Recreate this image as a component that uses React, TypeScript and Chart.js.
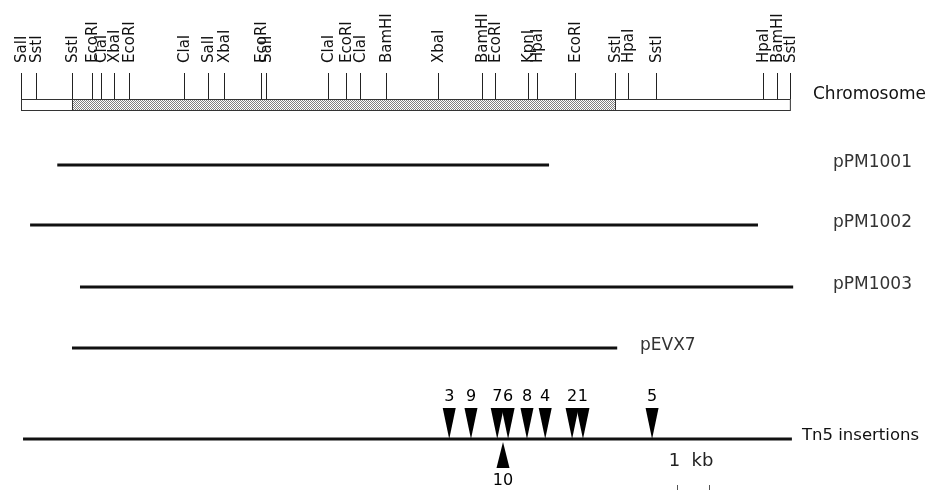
import React, { useEffect, useRef } from "react";
import { Chart, registerables } from "chart.js";

Chart.register(...registerables);

// Restriction sites along the chromosome (kb from the left SalI site)
const siteNames = [
  "SalI", "SstI", "SstI", "EcoRI", "ClaI", "XbaI", "EcoRI", "ClaI", "SalI", "XbaI",
  "EcoRI", "SalI", "ClaI", "EcoRI", "ClaI", "BamHI", "XbaI", "BamHI", "EcoRI", "KpnI",
  "HpaI", "EcoRI", "SstI", "HpaI", "SstI", "HpaI", "BamHI", "SstI",
];
const sitePositions = [
  0, 0.47, 1.59, 2.22, 2.5, 2.91, 3.38, 5.09, 5.84, 6.34,
  7.5, 7.66, 9.59, 10.16, 10.59, 11.41, 13.03, 14.41, 14.81, 15.84,
  16.13, 17.31, 18.56, 18.97, 19.84, 23.19, 23.63, 24.03,
];

// Chromosome extent and shaded (cloned) region
const chromosomeRange = [0, 24.03];
const shadedRange = [1.59, 18.56];

// Cloned fragments
const plasmidNames = ["pPM1001", "pPM1002", "pPM1003", "pEVX7"];
const plasmidStarts = [1.13, 0.28, 1.84, 1.59];
const plasmidEnds = [16.5, 23.03, 24.13, 18.63];

// Tn5 insertions
const tn5Range = [0.06, 24.09];
const insertionLabels = ["3", "9", "7", "6", "8", "4", "2", "1", "5"];
const insertionPositions = [13.38, 14.06, 14.88, 15.22, 15.81, 16.38, 17.22, 17.56, 19.72];
const insertionBelowLabels = ["10"];
const insertionBelowPositions = [15.06];

// Scale bar
const scaleBarLabel = "1  kb";
const scaleBarRange = [20.5, 21.5];

// Layout (pixels, y)
const L = {
  labelBottom: 63,
  tickTop: 73,
  boxTop: 99,
  boxBottom: 110,
  plasmidRows: [165, 225, 287, 348],
  plasmidLabelX: [833, 833, 833, 640],
  tn5Y: 439,
  triTop: 408,
  triHalf: 6.5,
  numY: 397,
  upBase: 468,
  upTip: 442,
  upLabelY: 481,
  kbLabelY: 461,
  kbTickTop: 485,
  kbTickBottom: 490,
};

const drawPlugin = {
  id: "mapDraw",
  afterDatasetsDraw(chart: any) {
    const ctx = chart.ctx as CanvasRenderingContext2D;
    const xs = chart.scales.x;
    const px = (v: number) => xs.getPixelForValue(v);
    ctx.save();

    // chromosome box
    const x0 = px(chromosomeRange[0]);
    const x1 = px(chromosomeRange[1]);
    const s0 = px(shadedRange[0]);
    const s1 = px(shadedRange[1]);
    const pc = document.createElement("canvas");
    pc.width = 2;
    pc.height = 2;
    const pctx = pc.getContext("2d")!;
    pctx.fillStyle = "#fff";
    pctx.fillRect(0, 0, 2, 2);
    pctx.fillStyle = "#808080";
    pctx.fillRect(0, 0, 1, 1);
    pctx.fillRect(1, 1, 1, 1);
    const pattern = ctx.createPattern(pc, "repeat")!;
    ctx.fillStyle = pattern;
    ctx.fillRect(s0, L.boxTop, s1 - s0, L.boxBottom - L.boxTop);
    ctx.strokeStyle = "#333";
    ctx.lineWidth = 1;
    ctx.strokeRect(Math.round(x0) + 0.5, L.boxTop + 0.5, x1 - x0, L.boxBottom - L.boxTop);
    ctx.beginPath();
    ctx.moveTo(Math.round(s0) + 0.5, L.boxTop);
    ctx.lineTo(Math.round(s0) + 0.5, L.boxBottom + 1);
    ctx.moveTo(Math.round(s1) + 0.5, L.boxTop);
    ctx.lineTo(Math.round(s1) + 0.5, L.boxBottom + 1);
    ctx.stroke();

    // site ticks & labels
    ctx.strokeStyle = "#222";
    ctx.fillStyle = "#111";
    ctx.font = "15px 'DejaVu Sans'";
    sitePositions.forEach((p, i) => {
      const x = Math.round(px(p)) + 0.5;
      ctx.beginPath();
      ctx.moveTo(x, L.tickTop);
      ctx.lineTo(x, L.boxTop);
      ctx.stroke();
      ctx.save();
      ctx.translate(x, L.labelBottom);
      ctx.rotate(-Math.PI / 2);
      ctx.textAlign = "left";
      ctx.textBaseline = "middle";
      ctx.fillText(siteNames[i], 0, 1);
      ctx.restore();
    });

    // right labels
    ctx.textBaseline = "middle";
    ctx.textAlign = "left";
    ctx.fillStyle = "#111";
    ctx.font = "17px 'DejaVu Sans'";
    ctx.fillText("Chromosome", 813, 95);
    ctx.fillStyle = "#333";
    ctx.font = "17px 'DejaVu Sans'";
    plasmidNames.forEach((n, i) => {
      ctx.fillText(n, L.plasmidLabelX[i], L.plasmidRows[i] - 2);
    });
    ctx.fillStyle = "#111";
    ctx.font = "16.5px 'DejaVu Sans'";
    ctx.fillText("Tn5 insertions", 802, L.tn5Y - 3);

    // insertions
    ctx.fillStyle = "#000";
    ctx.font = "16px 'DejaVu Sans'";
    ctx.textAlign = "center";
    insertionPositions.forEach((p, i) => {
      const x = px(p);
      ctx.beginPath();
      ctx.moveTo(x - L.triHalf, L.triTop);
      ctx.lineTo(x + L.triHalf, L.triTop);
      ctx.lineTo(x, L.tn5Y);
      ctx.closePath();
      ctx.fill();
      ctx.fillText(insertionLabels[i], x, L.numY);
    });
    insertionBelowPositions.forEach((p, i) => {
      const x = px(p);
      ctx.beginPath();
      ctx.moveTo(x - L.triHalf, L.upBase);
      ctx.lineTo(x + L.triHalf, L.upBase);
      ctx.lineTo(x, L.upTip);
      ctx.closePath();
      ctx.fill();
      ctx.fillText(insertionBelowLabels[i], x, L.upLabelY);
    });

    // scale bar
    ctx.font = "18px 'DejaVu Sans'";
    ctx.fillStyle = "#222";
    const b0 = px(scaleBarRange[0]);
    const b1 = px(scaleBarRange[1]);
    ctx.fillText(scaleBarLabel, (b0 + b1) / 2 - 2, L.kbLabelY);
    ctx.strokeStyle = "#555";
    [b0, b1].forEach((b) => {
      ctx.beginPath();
      ctx.moveTo(Math.round(b) + 0.5, L.kbTickTop);
      ctx.lineTo(Math.round(b) + 0.5, L.kbTickBottom);
      ctx.stroke();
    });
    ctx.restore();
  },
};

export default function App() {
  const ref = useRef<HTMLCanvasElement>(null);
  useEffect(() => {
    if (!ref.current) return;
    const lineDs = (a: number, b: number, y: number) => ({
      type: "line" as const,
      data: [
        { x: a, y },
        { x: b, y },
      ],
      borderColor: "#111",
      borderWidth: 3,
      pointRadius: 0,
      fill: false,
    });
    const datasets: any[] = plasmidNames.map((_, i) =>
      lineDs(plasmidStarts[i], plasmidEnds[i], L.plasmidRows[i])
    );
    datasets.push(lineDs(tn5Range[0], tn5Range[1], L.tn5Y));
    const chart = new Chart(ref.current, {
      type: "scatter",
      data: { datasets },
      options: {
        animation: false,
        responsive: false,
        devicePixelRatio: 1,
        showLine: true,
        layout: { padding: 0 },
        plugins: { legend: { display: false }, tooltip: { enabled: false } },
        scales: {
          x: { type: "linear", min: -0.66, max: 28.375, display: false },
          y: { type: "linear", min: 0, max: 490, reverse: true, display: false },
        },
      },
      plugins: [drawPlugin],
    });
    return () => chart.destroy();
  }, []);
  return (
    <div style={{ position: "fixed", left: 0, top: 0, width: 929, height: 490, background: "#fff" }}>
      <canvas ref={ref} width={929} height={490} />
    </div>
  );
}
